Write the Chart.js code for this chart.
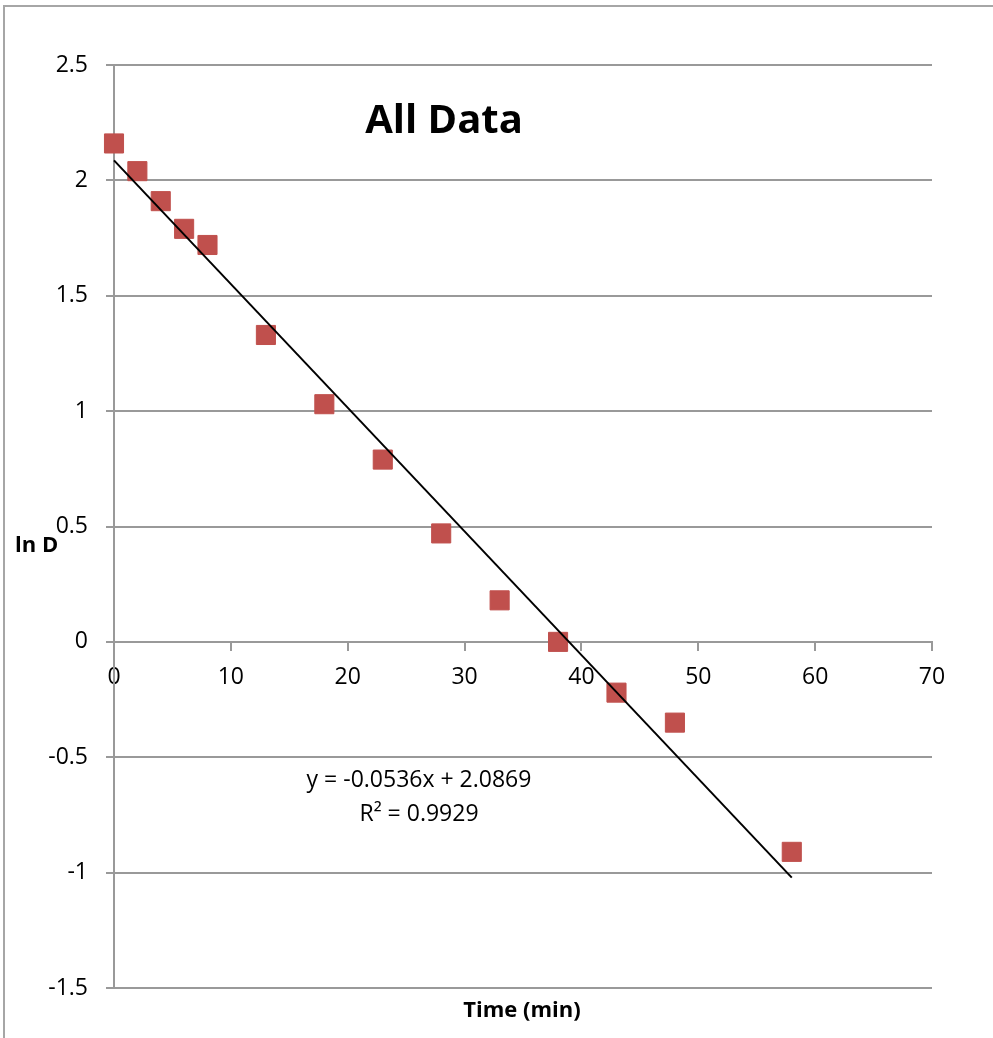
<!DOCTYPE html>
<html>
<head>
<meta charset="utf-8">
<script src="https://cdn.jsdelivr.net/npm/chart.js@4"></script>
<style>
  body { margin: 0; background: #fff; }
  canvas { display: block; }
</style>
</head>
<body>
<canvas id="chart" width="993" height="1038"></canvas>
<script>
// time (min) and ln D
const timeValues = [0, 2, 4, 6, 8, 13, 18, 23, 28, 33, 38, 43, 48, 58];
const lnDValues = [2.16, 2.04, 1.91, 1.79, 1.72, 1.33, 1.03, 0.79, 0.47, 0.18, 0.00, -0.22, -0.35, -0.91];

// linear trendline end points (y = -0.0536x + 2.0869)
const trendX = [0, 58];
const trendY = [2.0869, -1.0219];

const chartTitle = 'All Data';
const xTitle = 'Time (min)';
const yTitle = 'ln D';
const equationLines = ['y = -0.0536x + 2.0869', 'R\u00b2 = 0.9929'];

const fontFamily = "'Open Sans', sans-serif";
const gridColor = '#999999';

Chart.defaults.font.family = fontFamily;
Chart.defaults.font.size = 23;
Chart.defaults.color = '#000';

const textPlugin = {
    id: 'texts',
    afterDraw(chart) {
        const ctx = chart.ctx;
        ctx.save();

        // outer frame (left and top edges only are in view)
        ctx.strokeStyle = '#a6a6a6';
        ctx.lineWidth = 2;
        ctx.beginPath();
        ctx.moveTo(4, 1038);
        ctx.lineTo(4, 6);
        ctx.lineTo(993, 6);
        ctx.stroke();

        ctx.fillStyle = '#000';
        ctx.textBaseline = 'alphabetic';

        ctx.font = `bold 40px ${fontFamily}`;
        ctx.textAlign = 'center';
        ctx.fillText(chartTitle, 444, 133);

        ctx.font = `bold 22px ${fontFamily}`;
        ctx.fillText(xTitle, 522, 1017);
        ctx.textAlign = 'left';
        ctx.fillText(yTitle, 15, 552);

        ctx.font = `23px ${fontFamily}`;
        ctx.textAlign = 'center';
        ctx.fillText(equationLines[0], 419, 787);
        ctx.fillText(equationLines[1], 419, 821);

        ctx.restore();
    }
};

new Chart(document.getElementById('chart'), {
    type: 'scatter',
    data: {
        datasets: [{
            label: 'Trend',
            type: 'line',
            data: trendX.map((x, i) => ({x: x, y: trendY[i]})),
            borderColor: '#000',
            borderWidth: 2,
            pointRadius: 0,
            fill: false,
            tension: 0,
            clip: false
        }, {
            label: 'ln D',
            data: timeValues.map((x, i) => ({x: x, y: lnDValues[i]})),
            pointStyle: 'rect',
            pointRadius: 13.5,
            backgroundColor: '#C0504D',
            borderColor: '#C0504D',
            borderWidth: 1,
            clip: false
        }]
    },
    options: {
        responsive: false,
        animation: false,
        layout: {
            padding: {left: 0, right: 61, top: 65, bottom: 50}
        },
        plugins: {
            legend: {display: false},
            title: {display: false},
            tooltip: {enabled: false}
        },
        scales: {
            x: {
                type: 'linear',
                position: {y: 0},
                min: 0,
                max: 70,
                ticks: {
                    stepSize: 10,
                    padding: 14,
                    color: '#000'
                },
                grid: {
                    drawOnChartArea: false,
                    drawTicks: true,
                    tickLength: 8,
                    color: gridColor,
                    lineWidth: 2
                },
                border: {display: true, color: gridColor, width: 2}
            },
            y: {
                type: 'linear',
                position: 'left',
                min: -1.5,
                max: 2.5,
                ticks: {
                    stepSize: 0.5,
                    padding: 18,
                    color: '#000',
                    callback: value => String(value)
                },
                grid: {
                    color: gridColor,
                    lineWidth: 2,
                    tickLength: 8
                },
                border: {display: true, color: gridColor, width: 2},
                afterFit(scale) {
                    scale.width = 114;
                }
            }
        }
    },
    plugins: [textPlugin]
});
</script>
</body>
</html>
